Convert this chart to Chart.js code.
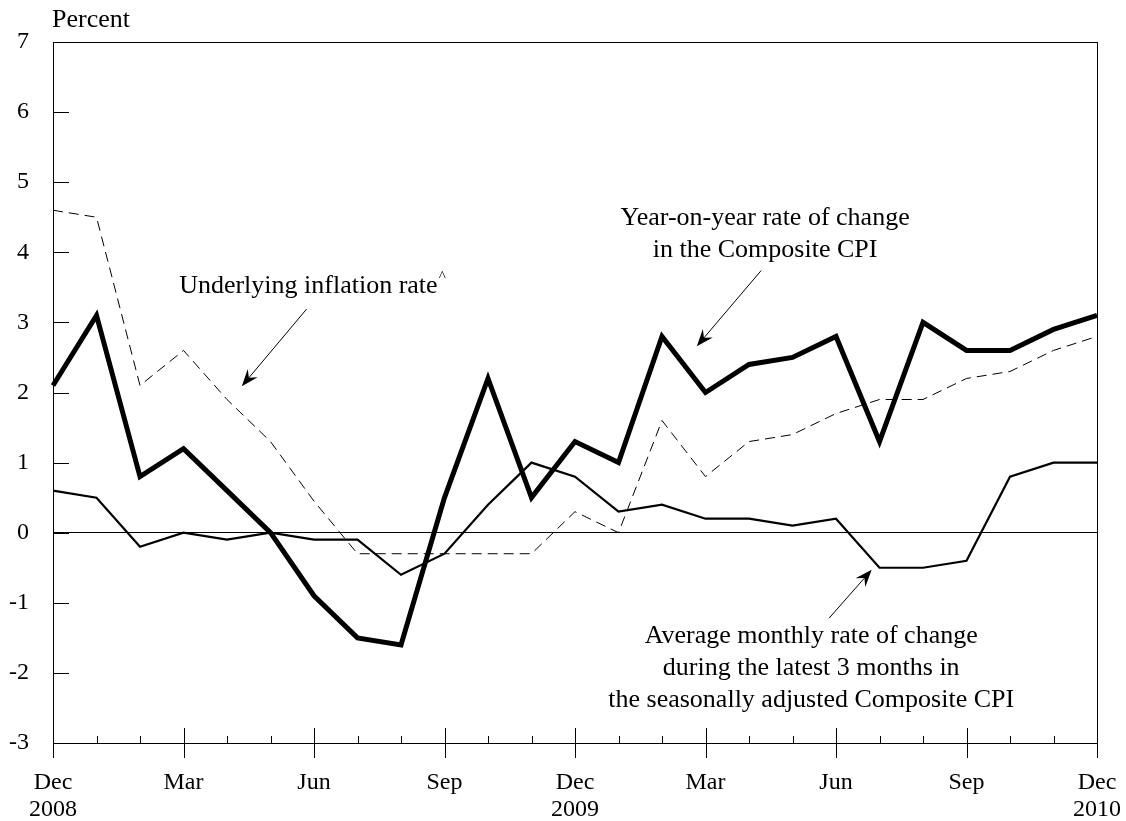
<!DOCTYPE html>
<html>
<head>
<meta charset="utf-8">
<script src="https://cdn.jsdelivr.net/npm/chart.js@4.4.1/dist/chart.umd.min.js"></script>
<style>
  html, body { margin: 0; padding: 0; background: #fff; }
  #wrap { width: 1126px; height: 821px; }
</style>
</head>
<body>
<div id="wrap"><canvas id="cpiChart" width="1126" height="821"></canvas></div>
<script>
// ===== Data (Dec 2008 - Dec 2010, monthly) =====
const monthLabels = ['Dec','Jan','Feb','Mar','Apr','May','Jun','Jul','Aug','Sep','Oct','Nov',
                     'Dec','Jan','Feb','Mar','Apr','May','Jun','Jul','Aug','Sep','Oct','Nov','Dec'];
const yearLabels = ['2008','','','','','','','','','','','',
                    '2009','','','','','','','','','','','','2010'];
const yoyComposite = [2.1, 3.1, 0.8, 1.2, 0.6, 0.0, -0.9, -1.5, -1.6, 0.5, 2.2, 0.5,
                      1.3, 1.0, 2.8, 2.0, 2.4, 2.5, 2.8, 1.3, 3.0, 2.6, 2.6, 2.9, 3.1];
const underlyingRate = [4.6, 4.5, 2.1, 2.6, 1.9, 1.3, 0.45, -0.3, -0.3, -0.3, -0.3, -0.3,
                        0.3, 0.0, 1.6, 0.8, 1.3, 1.4, 1.7, 1.9, 1.9, 2.2, 2.3, 2.6, 2.8];
const avg3Month = [0.6, 0.5, -0.2, 0.0, -0.1, 0.0, -0.1, -0.1, -0.6, -0.3, 0.4, 1.0,
                   0.8, 0.3, 0.4, 0.2, 0.2, 0.1, 0.2, -0.5, -0.5, -0.4, 0.8, 1.0, 1.0];
const yTicks = [-3, -2, -1, 0, 1, 2, 3, 4, 5, 6, 7];

const FONT = 'Liberation Serif, "Times New Roman", serif';

// annotation anchors in data units (x = month index, y = percent)
const notes = [
  { lines: ['Year-on-year rate of change', 'in the Composite CPI'], x: 16.37, y: 4.39, align: 'center' },
  { lines: ['Average monthly rate of change', 'during the latest 3 months in', 'the seasonally adjusted Composite CPI'], x: 17.43, y: -1.57, align: 'center' },
  { lines: ['Underlying inflation rate'], x: 2.90, y: 3.42, align: 'left', caret: true }
];
const arrows = [
  { from: [5.83, 3.19], to: [4.34, 2.09] },
  { from: [16.28, 3.74], to: [14.80, 2.66] },
  { from: [17.84, -1.22], to: [18.82, -0.53] }
];

function drawArrow(ctx, x1, y1, x2, y2) {
  const ang = Math.atan2(y2 - y1, x2 - x1);
  const len = 17, half = 6.5, notch = 11;
  ctx.beginPath();
  ctx.moveTo(x1, y1);
  ctx.lineTo(x2 - Math.cos(ang) * notch, y2 - Math.sin(ang) * notch);
  ctx.stroke();
  const bx = x2 - Math.cos(ang) * len, by = y2 - Math.sin(ang) * len;
  const nx = -Math.sin(ang), ny = Math.cos(ang);
  ctx.beginPath();
  ctx.moveTo(x2, y2);
  ctx.lineTo(bx + nx * half, by + ny * half);
  ctx.lineTo(x2 - Math.cos(ang) * notch, y2 - Math.sin(ang) * notch);
  ctx.lineTo(bx - nx * half, by - ny * half);
  ctx.closePath();
  ctx.fill();
}

const framePlugin = {
  id: 'frame',
  afterDraw(chart) {
    const { ctx, chartArea: a, scales: { x, y } } = chart;
    ctx.save();
    ctx.strokeStyle = '#000';
    ctx.fillStyle = '#000';
    ctx.lineWidth = 1;
    // box
    ctx.strokeRect(a.left + 0.5, a.top + 0.5, a.right - a.left, a.bottom - a.top);
    // y ticks, pointing inward
    yTicks.forEach(v => {
      const py = Math.round(y.getPixelForValue(v)) + 0.5;
      ctx.beginPath();
      ctx.moveTo(a.left, py);
      ctx.lineTo(a.left + 16, py);
      ctx.stroke();
    });
    // x ticks: quarterly ones long (both sides), others short
    monthLabels.forEach((m, i) => {
      const px = Math.round(x.getPixelForValue(i)) + 0.5;
      ctx.beginPath();
      if (i % 3 === 0) {
        ctx.moveTo(px, a.bottom - 15);
        ctx.lineTo(px, a.bottom + 15);
      } else {
        ctx.moveTo(px, a.bottom - 7);
        ctx.lineTo(px, a.bottom);
      }
      ctx.stroke();
    });
    // axis title
    ctx.font = '26px ' + FONT;
    ctx.textAlign = 'left';
    ctx.textBaseline = 'alphabetic';
    ctx.fillText('Percent', a.left - 1, a.top - 15);
    // annotations
    notes.forEach(n => {
      const px = x.getPixelForValue(n.x);
      let py = y.getPixelForValue(n.y);
      ctx.textAlign = n.align;
      n.lines.forEach(line => {
        ctx.font = '26px ' + FONT;
        ctx.fillText(line, px, py);
        if (n.caret) {
          const w = ctx.measureText(line).width;
          ctx.font = '15px ' + FONT;
          ctx.fillText('^', px + w + 1, py - 12);
        }
        py += 32;
      });
    });
    arrows.forEach(ar => {
      drawArrow(ctx,
        x.getPixelForValue(ar.from[0]), y.getPixelForValue(ar.from[1]),
        x.getPixelForValue(ar.to[0]), y.getPixelForValue(ar.to[1]));
    });
    ctx.restore();
  }
};

new Chart(document.getElementById('cpiChart'), {
  type: 'line',
  data: {
    labels: monthLabels,
    datasets: [
      {
        label: 'Year-on-year rate of change in the Composite CPI',
        data: yoyComposite,
        borderColor: '#000',
        borderWidth: 5,
        borderJoinStyle: 'miter',
        pointRadius: 0,
        tension: 0
      },
      {
        label: 'Underlying inflation rate',
        data: underlyingRate,
        borderColor: '#000',
        borderWidth: 1,
        borderDash: [10, 6],
        pointRadius: 0,
        tension: 0
      },
      {
        label: 'Average monthly rate of change (3 months, seasonally adjusted)',
        data: avg3Month,
        borderColor: '#000',
        borderWidth: 2.2,
        pointRadius: 0,
        tension: 0
      }
    ]
  },
  options: {
    responsive: false,
    animation: false,
    layout: { padding: { top: 42, right: 29, left: 0, bottom: 0 } },
    plugins: { legend: { display: false }, tooltip: { enabled: false } },
    scales: {
      x: {
        offset: false,
        grid: { display: false },
        border: { display: false },
        ticks: {
          autoSkip: false,
          maxRotation: 0,
          minRotation: 0,
          padding: 18,
          color: '#000',
          font: { family: FONT, size: 24, lineHeight: 1.125 },
          callback: (v, i) => {
            if (i % 3 !== 0) return '';
            return yearLabels[i] ? [monthLabels[i], yearLabels[i]] : monthLabels[i];
          }
        },
        afterFit: s => { s.height = 78; s.paddingLeft = 0; s.paddingRight = 0; }
      },
      y: {
        min: -3,
        max: 7,
        grid: {
          color: c => (c.tick && c.tick.value === 0 ? '#000' : 'rgba(0,0,0,0)'),
          lineWidth: 1,
          drawTicks: false
        },
        border: { display: false },
        ticks: {
          stepSize: 1,
          padding: 24,
          color: '#000',
          font: { family: FONT, size: 24 }
        },
        afterFit: s => { s.width = 53; s.paddingTop = 0; s.paddingBottom = 0; }
      }
    }
  },
  plugins: [framePlugin]
});
</script>
</body>
</html>
